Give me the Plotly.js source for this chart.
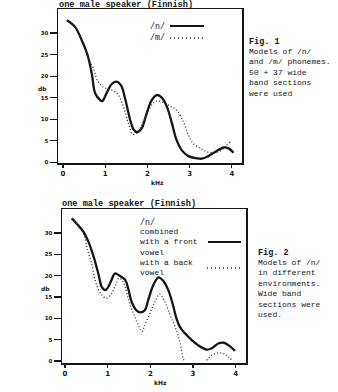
<!DOCTYPE html>
<html><head><meta charset="utf-8">
<script src="https://cdn.plot.ly/plotly-3.0.1.min.js"></script>
<style>html,body{margin:0;padding:0;background:#fff;}#c{width:338px;height:392px;}</style>
</head><body><div id="c"></div>
<script>
// Fig. 1 — /n/ (solid) and /m/ (dotted), kHz vs db
var f1_n_khz = [0.09,0.28,0.44,0.58,0.68,0.76,0.88,0.93,1.03,1.15,1.26,1.37,1.47,1.59,1.67,1.75,1.86,1.98,2.10,2.22,2.34,2.46,2.58,2.69,2.81,2.97,3.17,3.29,3.44,3.64,3.80,3.92,4.04];
var f1_n_db  = [33.0,31.5,28.4,24.9,20.6,16.0,14.4,14.2,16.0,18.1,18.7,17.9,14.8,9.8,7.6,7.0,7.8,11.3,14.4,15.6,15.0,12.9,9.0,5.1,2.8,1.4,0.9,0.8,1.4,2.6,3.4,3.2,2.2];
var f1_m_khz = [0.09,0.28,0.44,0.52,0.60,0.72,0.81,0.92,1.03,1.19,1.31,1.43,1.55,1.65,1.76,1.86,1.98,2.10,2.22,2.38,2.54,2.69,2.85,2.97,3.09,3.25,3.41,3.56,3.72,3.84,3.96];
var f1_m_db  = [33.0,31.5,28.6,26.7,24.1,21.8,19.1,17.7,17.1,16.6,15.6,12.9,9.0,6.5,6.8,8.6,10.9,13.3,14.2,13.9,13.0,12.1,9.4,6.3,4.3,3.2,2.4,2.2,2.6,3.6,4.7];
// Fig. 2 — /n/ with a front vowel (solid) and with a back vowel (dotted)
var f2_front_khz = [0.16,0.27,0.43,0.55,0.66,0.78,0.86,0.94,1.01,1.09,1.17,1.29,1.41,1.48,1.56,1.68,1.76,1.87,1.95,2.07,2.19,2.30,2.42,2.53,2.61,2.69,2.81,2.97,3.12,3.32,3.44,3.59,3.71,3.86,3.98];
var f2_front_db  = [33.4,32.2,30.3,27.9,24.8,20.5,17.4,16.6,17.3,19.0,20.5,19.9,19.0,17.0,13.9,11.8,11.4,11.9,14.3,17.8,19.6,18.8,16.6,13.1,10.0,8.0,6.5,4.9,3.7,2.7,3.0,4.1,4.3,3.5,2.4];
var f2_back_khz = [0.16,0.27,0.43,0.52,0.63,0.74,0.86,0.96,1.07,1.17,1.27,1.38,1.48,1.60,1.72,1.80,1.87,1.99,2.11,2.22,2.34,2.46,2.58,2.69,2.77,2.80,3.05,3.32,3.44,3.59,3.71,3.82,3.94];
var f2_back_db  = [33.4,32.2,29.9,26.4,22.5,17.8,15.5,14.7,15.5,17.4,19.4,18.2,14.7,11.2,8.4,6.9,8.4,11.2,13.9,15.7,13.9,10.8,8.0,4.5,0.6,0.0,null,0.2,1.4,1.9,1.8,1.0,0.0];
var xTicks = [0,1,2,3,4];
var yTicks = [0,5,10,15,20,25,30];

var W=338,H=392;
function px(x){return x/W;} function py(y){return 1-y/H;}
var ink='#151515';
var mono='Liberation Mono, Courier New, monospace';
var dotDash='1px,2.2px';

var solid={color:ink,width:2.3,shape:'spline',smoothing:1};
var dotted={color:'#2a2a2a',width:1.3,dash:dotDash,shape:'spline',smoothing:1};
var traces=[
 {x:f1_n_khz,y:f1_n_db,mode:'lines',line:solid,xaxis:'x',yaxis:'y'},
 {x:f1_m_khz,y:f1_m_db,mode:'lines',line:dotted,xaxis:'x',yaxis:'y'},
 {x:f2_front_khz,y:f2_front_db,mode:'lines',line:solid,xaxis:'x2',yaxis:'y2'},
 {x:f2_back_khz,y:f2_back_db,mode:'lines',line:dotted,xaxis:'x2',yaxis:'y2',connectgaps:false}
];
function xa(dom,rng,anchor){return {domain:dom,range:rng,anchor:anchor,tickvals:xTicks,ticktext:xTicks.map(String),
 showline:true,mirror:true,linecolor:ink,linewidth:1.5,ticks:'outside',ticklen:3,tickwidth:1.2,tickcolor:ink,
 showgrid:false,zeroline:false,tickfont:{family:'DejaVu Sans',size:7,color:ink,weight:'bold'}};}
function ya(dom,rng,anchor){return {domain:dom,range:rng,anchor:anchor,tickvals:yTicks,ticktext:yTicks.map(String),
 showline:true,mirror:true,linecolor:ink,linewidth:1.5,ticks:'outside',ticklen:7,tickwidth:1.2,tickcolor:ink,
 showgrid:false,zeroline:false,tickfont:{family:'DejaVu Sans',size:5.5,color:ink,weight:'bold'}};}

function txt(x,y,s,size,opts){var a={xref:'paper',yref:'paper',x:px(x),y:py(y),text:s,showarrow:false,align:'left',
 xanchor:'left',yanchor:'middle',font:{family:mono,size:size||8,color:ink}};
 if(opts){for(var k in opts)a[k]=opts[k];}return a;}
var small={family:'DejaVu Sans',size:6,color:ink,weight:'bold'};
var boldMono={family:mono,size:8.6,color:ink,weight:'bold'};

var ann=[
 txt(57,5,'one male speaker (Finnish)',8.6,{font:boldMono}),
 txt(148,26,'/n/',8.3), txt(148,38,'/m/',8.3),
 txt(247,42,'Fig. 1',8.5,{font:{family:mono,size:8.5,color:ink,weight:'bold'}}),
 txt(247,72,'Models of /n/<br>and /m/ phonemes.<br>50 + 37 wide<br>band sections<br>were used',8),
 txt(42,88,'db',6,{xanchor:'center',font:small}),
 txt(157,182,'kHz',6,{xanchor:'center',font:small}),

 txt(60,204,'one male speaker (Finnish)',8.6,{font:boldMono}),
 txt(138,222,'/n/',8.3),
 txt(138,242,'combined<br>with a front<br>vowel',8),
 txt(138,267,'with a back<br>vowel',8),
 txt(256,253,'Fig. 2',8.5,{font:{family:mono,size:8.5,color:ink,weight:'bold'}}),
 txt(256,288,'Models of /n/<br>in different<br>environments.<br>Wide band<br>sections were<br>used.',8),
 txt(45,288,'db',6,{xanchor:'center',font:small}),
 txt(160,382,'kHz',6,{xanchor:'center',font:small})
];
var shapes=[
 {type:'line',xref:'paper',yref:'paper',x0:px(170),x1:px(204),y0:py(26),y1:py(26),line:{color:ink,width:2}},
 {type:'line',xref:'paper',yref:'paper',x0:px(170),x1:px(204),y0:py(38),y1:py(38),line:{color:'#2a2a2a',width:1.4,dash:'1px,3px'}},
 {type:'line',xref:'paper',yref:'paper',x0:px(208),x1:px(241),y0:py(242),y1:py(242),line:{color:ink,width:2}},
 {type:'line',xref:'paper',yref:'paper',x0:px(207),x1:px(242),y0:py(268),y1:py(268),line:{color:'#2a2a2a',width:1.4,dash:'1px,3px'}}
];
var layout={width:W,height:H,margin:{l:0,r:0,t:0,b:0},showlegend:false,paper_bgcolor:'#fff',plot_bgcolor:'#fff',
 xaxis:xa([px(58),px(242)],[-0.12,4.24],'y'),
 yaxis:ya([py(163),py(9)],[-0.2,35.6],'x'),
 xaxis2:xa([px(62),px(246)],[-0.07,4.24],'y2'),
 yaxis2:ya([py(363),py(209)],[-0.45,35.6],'x2'),
 annotations:ann,shapes:shapes};
Plotly.newPlot('c',traces,layout,{staticPlot:true,displayModeBar:false});
</script></body></html>
